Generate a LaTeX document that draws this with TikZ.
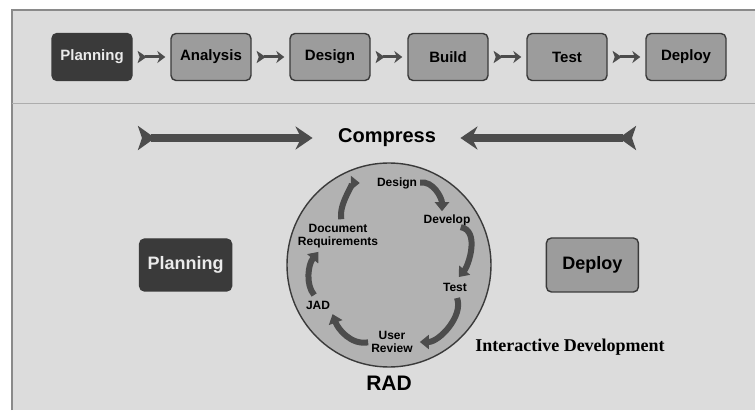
\documentclass[tikz,border=0pt]{standalone}
\usepackage{fontspec}
\setmainfont{Liberation Serif}
\setsansfont{Liberation Sans}
\usetikzlibrary{arrows.meta,positioning}
\definecolor{panelgray}{HTML}{DCDCDC}
\definecolor{framegray}{HTML}{8A8A8A}
\definecolor{stagegray}{HTML}{9C9C9C}
\definecolor{stagedark}{HTML}{3A3A3A}
\definecolor{inkgray}{HTML}{4C4C4C}
\definecolor{radgray}{HTML}{B2B2B2}

\begin{document}
\begin{tikzpicture}[x=1pt, y=1pt,
    stagebox/.style={draw=stagedark, line width=1.4pt, fill=stagegray, rounded corners=5pt,
      minimum width=80pt, minimum height=47pt, font=\sffamily\bfseries\fontsize{15}{15}\selectfont},
    darkstage/.style={stagebox, fill=stagedark, text=white!92!black},
    flowarrow/.style={draw=inkgray, line width=3pt, shorten <=5pt, shorten >=5pt,
      {Stealth[reversed, length=9pt, width=12pt, inset=2pt]}-{Stealth[length=8pt, width=12pt]}},
    bigarrow/.style={draw=inkgray, line width=8pt,
      {Stealth[reversed, length=17pt, width=24pt, inset=4pt]}-{Stealth[length=17pt, width=23pt]}},
    cyclearrow/.style={draw=inkgray, line width=6pt, -{Triangle[length=9pt, width=14pt]}},
    cyclelabel/.style={font=\sffamily\bfseries\fontsize{12}{12.5}\selectfont, align=center, inner sep=1pt}]
    \useasboundingbox (0,0) rectangle (755,410);
    \fill[white] (0,0) rectangle (755,410);

    % Panel and frame
    \fill[panelgray] (12,0) rectangle (755,400);
    \draw[framegray, line width=1.2pt] (12,0) -- (12,400) -- (755,400);
    \draw[framegray!70, line width=1pt] (12,306) -- (755,306);

    % Waterfall stages
    \node[darkstage] (plan) at (92,353) {Planning};
    \node[stagebox] (analysis) at (211,353) {Analysis};
    \node[stagebox] (design) at (330,353) {Design};
    \node[stagebox] (build) at (448,353) {Build};
    \node[stagebox] (testing) at (567,353) {Test};
    \node[stagebox] (deploy) at (686,353) {Deploy};
    \foreach \from/\to in {plan/analysis, analysis/design, design/build, build/testing, testing/deploy}
        \draw[flowarrow] (\from) -- (\to);

    % Compress
    \node[font=\sffamily\bfseries\fontsize{20}{20}\selectfont] (compress) at (387,272) {Compress};
    \coordinate (ltail) at (138,272);
    \coordinate (rtail) at (636,272);
    \draw[bigarrow, shorten >=22pt] (ltail) -- (compress);
    \draw[bigarrow, shorten >=21pt] (rtail) -- (compress);

    % RAD cycle
    \node[circle, draw=stagedark, line width=1.4pt, fill=radgray, minimum size=204pt] (rad) at (389,145) {};
    \node[font=\sffamily\bfseries\fontsize{21}{21}\selectfont, below=5pt of rad] (radlabel) {RAD};
    \node[cyclelabel] (cdesign) at (397,227) {Design};
    \node[cyclelabel] (cdevelop) at (447,190) {Develop};
    \node[cyclelabel] (ctest) at (455,123) {Test};
    \node[cyclelabel] (creview) at (392,68) {User\\Review};
    \node[cyclelabel] (cjad) at (318,105) {JAD};
    \node[cyclelabel] (cdoc) at (338,174) {Document\\Requirements};

    \draw[cyclearrow, shorten <=2pt, shorten >=2pt] (cdesign.east) to[out=10, in=90] (cdevelop.north -| 442,0);
    \draw[cyclearrow, shorten <=2pt, shorten >=6pt] (cdevelop.-30) to[out=-10, in=50] (ctest.north);
    \draw[cyclearrow, shorten <=6pt, shorten >=6pt] (ctest.south) to[out=-70, in=0] (creview.east);
    \draw[cyclearrow, shorten <=2pt, shorten >=4pt] (creview.west) to[out=190, in=-70] (cjad.south east);
    \draw[cyclearrow, shorten <=6pt, shorten >=4pt] (cjad.north) to[out=130, in=-130] ([xshift=-17pt]cdoc.south);
    \draw[cyclearrow, shorten <=4pt, shorten >=16pt] ([xshift=4pt]cdoc.north) to[out=100, in=180] (cdesign.west);

    % Lower stages
    \node[darkstage, minimum width=92pt, minimum height=52pt, font=\sffamily\bfseries\fontsize{18}{18}\selectfont,
      left=54pt of rad] (rplan) {Planning};
    \node[stagebox, minimum width=92pt, minimum height=54pt, font=\sffamily\bfseries\fontsize{18}{18}\selectfont,
      right=54pt of rad] (rdeploy) {Deploy};
    \node[font=\bfseries\fontsize{18}{18}\selectfont] (interdev) at (570,63) {Interactive Development};
\end{tikzpicture}
\end{document}
